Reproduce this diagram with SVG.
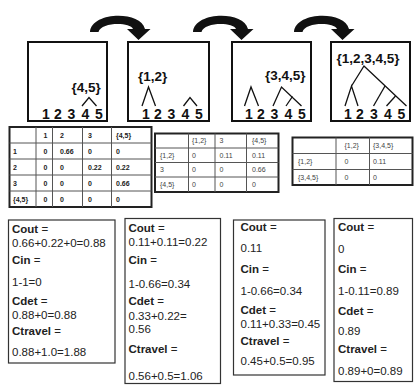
<svg xmlns="http://www.w3.org/2000/svg" width="419" height="385" viewBox="0 0 419 385">
<style>
.bg{fill:#fff}
.panel{fill:#fff;stroke:#111;stroke-width:2}
.tree{fill:none;stroke:#111;stroke-width:1.3}
.dig{font-family:"Liberation Sans",Arial,sans-serif;font-weight:bold;font-size:14px;fill:#111}
.set{font-family:"Liberation Sans",Arial,sans-serif;font-weight:bold;font-size:13.5px;fill:#111}
.tout{fill:none;stroke:#222;stroke-width:2}
.tin{fill:none;stroke:#555;stroke-width:1}
.t1{font-family:"Liberation Sans",Arial,sans-serif;font-weight:bold;font-size:7px;fill:#222}
.t2{font-family:"Liberation Sans",Arial,sans-serif;font-size:7px;fill:#444}
.cbox{fill:#fff;stroke:#333;stroke-width:1.2}
.ct{font-family:"Liberation Sans",Arial,sans-serif;font-size:11.5px;fill:#222}
.ct tspan.b{font-weight:bold}
.arrow{fill:#111;stroke:none}
</style>
<defs>
<path id="carrow" class="arrow" d="M 90 32 C 91 12, 140 10, 145 29 L 150.5 29 L 138.5 40 L 127 29 L 133 29 C 130 22, 101 22, 98.5 32 Z"/>
</defs>
<rect class="bg" x="0" y="0" width="419" height="385"/>

<g id="connectors">
<use href="#carrow"/>
<use href="#carrow" transform="translate(103,0)"/>
<use href="#carrow" transform="translate(204,0)"/>
</g>

<g id="panel1">
<rect class="panel" x="28" y="42" width="79" height="79"/>
<text class="set" x="71.5" y="91.5">{4,5}</text>
<polyline class="tree" points="82,106 89,97.5 96.5,106"/>
<text class="dig" x="42 54 67.5 81.5 95" y="119">12345</text>
</g>

<g id="panel2">
<rect class="panel" x="128" y="42" width="81" height="79"/>
<text class="set" x="138" y="81">{1,2}</text>
<polyline class="tree" points="142,106 148.5,87 155.5,106"/>
<polyline class="tree" points="183.5,106 190,97.5 197,106"/>
<text class="dig" x="142 154 167.5 181.5 195" y="119">12345</text>
</g>

<g id="panel3">
<rect class="panel" x="232" y="42" width="79" height="79"/>
<text class="set" x="265" y="80">{3,4,5}</text>
<polyline class="tree" points="244.5,106 251,87 258.5,106"/>
<polyline class="tree" points="273,106 281.5,87 301.5,106"/>
<line class="tree" x1="292.5" y1="96.5" x2="286" y2="106"/>
<text class="dig" x="245 257 270.5 284.5 298" y="119">12345</text>
</g>

<g id="panel4">
<rect class="panel" x="331" y="42" width="79" height="79"/>
<text class="set" x="336.5" y="63">{1,2,3,4,5}</text>
<polyline class="tree" points="351.5,86 364,66 406.5,106"/>
<polyline class="tree" points="345,106 351.5,86 358,106"/>
<line class="tree" x1="385" y1="86" x2="373.5" y2="106"/>
<line class="tree" x1="395.5" y1="96" x2="386.5" y2="106"/>
<text class="dig" x="344 356 370 384 397.5" y="119">12345</text>
</g>

<g id="table1">
<rect class="tout" x="9.5" y="127" width="142" height="80"/>
<path class="tin" d="M36 127V207M52.5 127V207M82.5 127V207M111.5 127V207M9.5 143H151.5M9.5 159H151.5M9.5 175H151.5M9.5 191H151.5"/>
<text class="t1" y="137.5"><tspan x="43.5">1</tspan><tspan x="60">2</tspan><tspan x="88">3</tspan><tspan x="116">{4,5}</tspan></text>
<text class="t1" y="153.5"><tspan x="13">1</tspan><tspan x="43.5">0</tspan><tspan x="60">0.66</tspan><tspan x="88">0</tspan><tspan x="116">0</tspan></text>
<text class="t1" y="169.5"><tspan x="13">2</tspan><tspan x="43.5">0</tspan><tspan x="60">0</tspan><tspan x="88">0.22</tspan><tspan x="116">0.22</tspan></text>
<text class="t1" y="185.5"><tspan x="13">3</tspan><tspan x="43.5">0</tspan><tspan x="60">0</tspan><tspan x="88">0</tspan><tspan x="116">0.66</tspan></text>
<text class="t1" y="201.5"><tspan x="13">{4,5}</tspan><tspan x="43.5">0</tspan><tspan x="60">0</tspan><tspan x="88">0</tspan><tspan x="116">0</tspan></text>
</g>

<g id="table2">
<rect class="tout" x="155" y="133.5" width="123.5" height="58.5"/>
<path class="tin" d="M188.5 133.5V192M215 133.5V192M246.5 133.5V192M155 148H278.5M155 162.5H278.5M155 177H278.5"/>
<text class="t2" y="143"><tspan x="192">{1,2}</tspan><tspan x="219.5">3</tspan><tspan x="252">{4,5}</tspan></text>
<text class="t2" y="157.5"><tspan x="160">{1,2}</tspan><tspan x="192">0</tspan><tspan x="219.5">0.11</tspan><tspan x="252">0.11</tspan></text>
<text class="t2" y="172"><tspan x="160">3</tspan><tspan x="192">0</tspan><tspan x="219.5">0</tspan><tspan x="252">0.66</tspan></text>
<text class="t2" y="186.5"><tspan x="160">{4,5}</tspan><tspan x="192">0</tspan><tspan x="219.5">0</tspan><tspan x="252">0</tspan></text>
</g>

<g id="table3">
<rect class="tout" x="292.5" y="137.5" width="120" height="47.5"/>
<path class="tin" d="M336 137.5V185M369.5 137.5V185M292.5 153.5H412.5M292.5 169.5H412.5"/>
<text class="t2" y="147.5"><tspan x="344.5">{1,2}</tspan><tspan x="373">{3,4,5}</tspan></text>
<text class="t2" y="164"><tspan x="298">{1,2}</tspan><tspan x="344.5">0</tspan><tspan x="373">0.11</tspan></text>
<text class="t2" y="179.5"><tspan x="298">{3,4,5}</tspan><tspan x="344.5">0</tspan><tspan x="373">0</tspan></text>
</g>

<g id="cost1">
<rect class="cbox" x="8.5" y="220" width="106.5" height="143"/>
<text class="ct" x="12" y="232.5"><tspan class="b">Cout</tspan> =</text>
<text class="ct" x="12" y="246.5">0.66+0.22+0=0.88</text>
<text class="ct" x="12" y="263.5"><tspan class="b">Cin</tspan> =</text>
<text class="ct" x="12" y="286">1-1=0</text>
<text class="ct" x="12" y="305"><tspan class="b">Cdet</tspan> =</text>
<text class="ct" x="12" y="318.5">0.88+0=0.88</text>
<text class="ct" x="12" y="335"><tspan class="b">Ctravel</tspan> =</text>
<text class="ct" x="12" y="356">0.88+1.0=1.88</text>
</g>

<g id="cost2">
<rect class="cbox" x="125" y="218.5" width="95.5" height="165"/>
<text class="ct" x="128.5" y="231.5"><tspan class="b">Cout</tspan> =</text>
<text class="ct" x="128.5" y="246">0.11+0.11=0.22</text>
<text class="ct" x="128.5" y="264"><tspan class="b">Cin</tspan> =</text>
<text class="ct" x="128.5" y="287.5">1-0.66=0.34</text>
<text class="ct" x="128.5" y="305"><tspan class="b">Cdet</tspan> =</text>
<text class="ct" x="128.5" y="320">0.33+0.22=</text>
<text class="ct" x="128.5" y="332.5">0.56</text>
<text class="ct" x="128.5" y="352.5"><tspan class="b">Ctravel</tspan> =</text>
<text class="ct" x="128.5" y="380">0.56+0.5=1.06</text>
</g>

<g id="cost3">
<rect class="cbox" x="233.5" y="220" width="91.5" height="155"/>
<text class="ct" x="240.5" y="230.5"><tspan class="b">Cout</tspan> =</text>
<text class="ct" x="240.5" y="251.5">0.11</text>
<text class="ct" x="240.5" y="273"><tspan class="b">Cin</tspan> =</text>
<text class="ct" x="240.5" y="295">1-0.66=0.34</text>
<text class="ct" x="240.5" y="314"><tspan class="b">Cdet</tspan> =</text>
<text class="ct" x="240.5" y="327.5">0.11+0.33=0.45</text>
<text class="ct" x="240.5" y="345"><tspan class="b">Ctravel</tspan> =</text>
<text class="ct" x="240.5" y="365">0.45+0.5=0.95</text>
</g>

<g id="cost4">
<rect class="cbox" x="334" y="218.5" width="78.5" height="163"/>
<text class="ct" x="338" y="230.5"><tspan class="b">Cout</tspan> =</text>
<text class="ct" x="338" y="252.5">0</text>
<text class="ct" x="338" y="273"><tspan class="b">Cin</tspan> =</text>
<text class="ct" x="338" y="295">1-0.11=0.89</text>
<text class="ct" x="338" y="315"><tspan class="b">Cdet</tspan> =</text>
<text class="ct" x="338" y="335">0.89</text>
<text class="ct" x="338" y="353"><tspan class="b">Ctravel</tspan> =</text>
<text class="ct" x="338" y="375">0.89+0=0.89</text>
</g>
</svg>
